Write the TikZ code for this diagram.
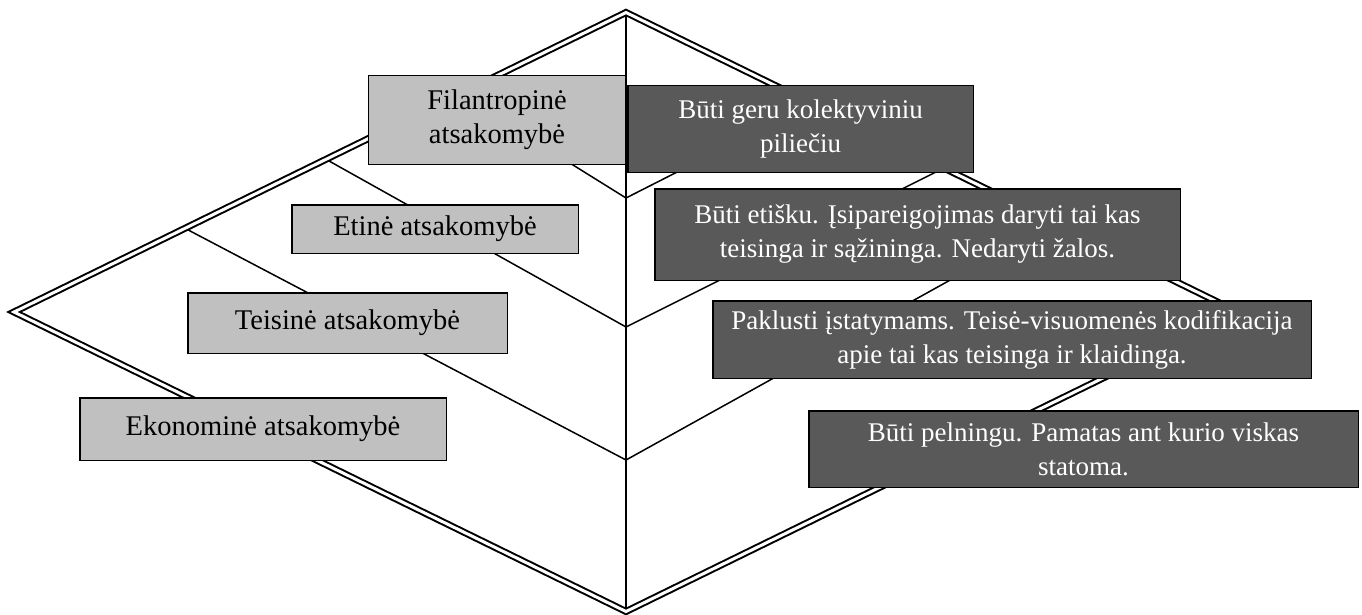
\documentclass[tikz,border=0pt]{standalone}
\usepackage{fontspec}
\setmainfont{Liberation Serif}
\usetikzlibrary{calc}
\definecolor{lightbox}{RGB}{192,192,192}
\definecolor{darkbox}{RGB}{89,89,89}
\begin{document}
\begin{tikzpicture}[x=1pt,y=-1pt,
  lbox/.style={draw=black, line width=1.5pt, fill=lightbox, inner sep=0pt, align=center, font=\fontsize{28.5}{34}\selectfont, text=black},
  dbox/.style={draw=black, line width=1.5pt, fill=darkbox, inner sep=0pt, align=center, font=\fontsize{27}{34}\selectfont, text=white},
  arm/.style={line width=1.5pt},
  edgetwo/.style={draw=black, double=white, line width=2pt, double distance=3pt, line join=miter}]
\useasboundingbox (0,0) rectangle (1362,615);
% diamond corners
\coordinate (T) at (626,12.5);
\coordinate (L) at (14,312);
\coordinate (B) at (626,611.5);
\coordinate (R) at (1238,312);
% chevron vertices and ends
\coordinate (V1) at (626,198);
\coordinate (V2) at (626,327);
\coordinate (V3) at (626,460);
\coordinate (a1l) at (459,94);
\coordinate (a1r) at (812,103.5);
\coordinate (a2l) at (326,159.3);
\coordinate (a2r) at (944,168);
\coordinate (a3l) at (185,228.3);
\coordinate (a3r) at (1054.6,222.1);
\draw[arm] (T) -- (B);
\draw[arm] (a1l) -- (V1) -- (a1r);
\draw[arm] (a2l) -- (V2) -- (a2r);
\draw[arm] (a3l) -- (V3) -- (a3r);
\draw[edgetwo] (T) -- (R) -- (B) -- (L) -- cycle;
% left boxes
\node[lbox, minimum width=257.5pt, minimum height=88.5pt] (f) at (497,120) {Filantropinė\\atsakomybė};
\node[lbox, minimum width=286.5pt, minimum height=48.5pt] (e) at (435,229) {Etinė atsakomybė};
\node[lbox, minimum width=319.5pt, minimum height=60.5pt] (t) at (347.5,323) {Teisinė atsakomybė};
\node[lbox, minimum width=366.5pt, minimum height=62.5pt] (k) at (263,429) {Ekonominė atsakomybė};
% right boxes
\node[dbox, minimum width=345.5pt, minimum height=86.5pt] (bg) at (800.5,129) {Būti geru kolektyviniu\\piliečiu};
\node[dbox, minimum width=525.5pt, minimum height=91.5pt] (be) at (917.5,234.5) {Būti etišku. Įsipareigojimas daryti tai kas\\teisinga ir sąžininga. Nedaryti žalos.};
\node[dbox, minimum width=598.5pt, minimum height=77.5pt] (pk) at (1012,339.5) {Paklusti įstatymams. Teisė-visuomenės kodifikacija\\apie tai kas teisinga ir klaidinga.};
\node[dbox, minimum width=549.5pt, minimum height=76.5pt] (bp) at (1083.5,449) {Būti pelningu. Pamatas ant kurio viskas\\statoma.};
\end{tikzpicture}
\end{document}
